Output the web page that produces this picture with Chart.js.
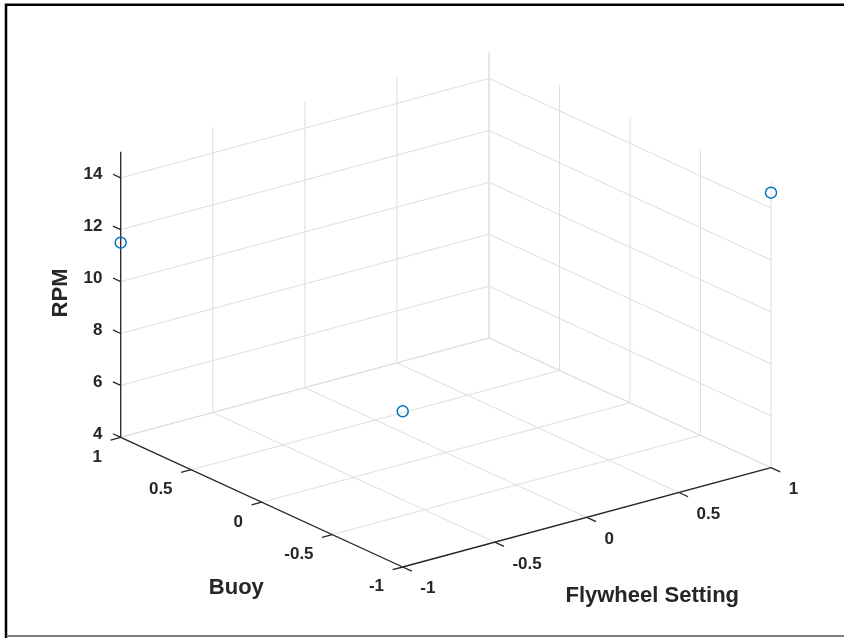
<!DOCTYPE html>
<html>
<head>
<meta charset="utf-8">
<script src="https://cdn.jsdelivr.net/npm/chart.js@4/dist/chart.umd.min.js"></script>
<style>
  html, body { margin: 0; padding: 0; background: #fff; }
  canvas { display: block; }
</style>
</head>
<body>
<canvas id="rpmChart" width="844" height="638"></canvas>
<script>
// Data
const flywheel = [-1, 1, -1]
const buoy = [1, -1, -1]
const rpm = [11.5, 14.6, 10.0]

const xTicks = [-1, -0.5, 0, 0.5, 1]
const yTicks = [-1, -0.5, 0, 0.5, 1]
const zTicks = [4, 6, 8, 10, 12, 14]
const xLimits = [-1, 1]
const yLimits = [-1, 1]
const zLimits = [4, 15]

const xTitle = "Flywheel Setting"
const yTitle = "Buoy"
const zTitle = "RPM"

// view (az -37.5, el 30) flattened to screen units
const view = {
  ox: 445.85,
  oy: 452.5,
  ex: [184.15, -49.65],
  ey: [-141, -64.85],
  ez: -25.95,
}

const GRID = "#dedede"
const AXIS = "#262626"
const BLUE = "#0072BD"
const FONT = '"Liberation Sans", Arial, Helvetica, sans-serif'

function proj(x, y, z) {
  return {
    x: view.ox + x * view.ex[0] + y * view.ey[0],
    y: view.oy + x * view.ex[1] + y * view.ey[1] + (z - zLimits[0]) * view.ez,
  }
}

function seg(a, b, color, width, order) {
  return {
    data: [proj(...a), proj(...b)],
    showLine: true,
    borderColor: color,
    borderWidth: width,
    pointRadius: 0,
    order: order,
  }
}

const datasets = []
const [x0, x1] = xLimits
const [y0, y1] = yLimits
const [z0, z1] = zLimits

// floor grid
xTicks.forEach((v) => datasets.push(seg([v, y0, z0], [v, y1, z0], GRID, 1, 3)))
yTicks.forEach((v) => datasets.push(seg([x0, v, z0], [x1, v, z0], GRID, 1, 3)))
// back wall (y = max)
xTicks.forEach((v) => datasets.push(seg([v, y1, z0], [v, y1, z1], GRID, 1, 3)))
zTicks.forEach((v) => datasets.push(seg([x0, y1, v], [x1, y1, v], GRID, 1, 3)))
// side wall (x = max)
yTicks.forEach((v) => datasets.push(seg([x1, v, z0], [x1, v, z1], GRID, 1, 3)))
zTicks.forEach((v) => datasets.push(seg([x1, y0, v], [x1, y1, v], GRID, 1, 3)))

// axis lines
datasets.push(seg([x0, y0, z0], [x1, y0, z0], AXIS, 1.3, 1))
datasets.push(seg([x0, y0, z0], [x0, y1, z0], AXIS, 1.3, 1))
datasets.push(seg([x0, y1, z0], [x0, y1, z1], AXIS, 1.3, 1))

// tick marks
const xTickLen = 0.065
const yTickLen = 0.055
const zTickLen = 0.055
xTicks.forEach((v) => datasets.push(seg([v, y0, z0], [v, y0 - xTickLen, z0], AXIS, 1.3, 1)))
yTicks.forEach((v) => datasets.push(seg([x0, v, z0], [x0 - yTickLen, v, z0], AXIS, 1.3, 1)))
zTicks.forEach((v) => datasets.push(seg([x0, y1, v], [x0, y1 + zTickLen, v], AXIS, 1.3, 1)))

// the measurements
datasets.push({
  data: flywheel.map((f, i) => proj(f, buoy[i], rpm[i])),
  pointStyle: "circle",
  pointRadius: 5.5,
  pointBorderWidth: 1.5,
  pointBorderColor: BLUE,
  pointBackgroundColor: "rgba(255,255,255,0)",
  showLine: false,
  order: 0,
})

function fmt(v) {
  return String(v)
}

const labelsPlugin = {
  id: "labels3d",
  beforeDraw(chart) {
    const ctx = chart.ctx
    ctx.save()
    ctx.fillStyle = "#fff"
    ctx.fillRect(0, 0, chart.width, chart.height)
    ctx.restore()
  },
  afterDraw(chart) {
    const ctx = chart.ctx
    const sx = chart.scales.x
    const sy = chart.scales.y
    const px = (p) => ({ x: sx.getPixelForValue(p.x), y: sy.getPixelForValue(p.y) })
    ctx.save()
    ctx.fillStyle = AXIS
    ctx.textBaseline = "middle"
    ctx.font = "bold 17px " + FONT

    ctx.textAlign = "left"
    xTicks.forEach((v) => {
      const p = px(proj(v, y0 - xTickLen, z0))
      ctx.fillText(fmt(v), p.x + 8.5, p.y + 17.5)
    })
    ctx.textAlign = "right"
    yTicks.forEach((v) => {
      const p = px(proj(x0 - yTickLen, v, z0))
      ctx.fillText(fmt(v), p.x - 8.5, p.y + 17)
    })
    zTicks.forEach((v) => {
      const p = px(proj(x0, y1 + zTickLen, v))
      ctx.fillText(fmt(v), p.x - 10.5, p.y + 0.5)
    })

    // axis titles
    ctx.font = "bold 22px " + FONT
    ctx.textAlign = "center"
    const xm = px(proj((x0 + x1) / 2, y0, z0))
    ctx.fillText(xTitle, xm.x + 65.4, xm.y + 78.4)
    const ym = px(proj(x0, (y0 + y1) / 2, z0))
    ctx.fillText(yTitle, ym.x - 25.4, ym.y + 86)
    const zm = px(proj(x0, y1, (z0 + z1) / 2))
    ctx.translate(zm.x - 60, zm.y - 1.6)
    ctx.rotate(-Math.PI / 2)
    ctx.fillText(zTitle, 0, 0)
    ctx.restore()

    // figure frame
    ctx.save()
    ctx.strokeStyle = "#000"
    ctx.lineWidth = 2.5
    ctx.beginPath()
    ctx.moveTo(6, 640)
    ctx.lineTo(6, 4.7)
    ctx.lineTo(850, 4.7)
    ctx.stroke()
    ctx.strokeStyle = "#555"
    ctx.lineWidth = 1.5
    ctx.beginPath()
    ctx.moveTo(6, 636)
    ctx.lineTo(850, 636)
    ctx.stroke()
    ctx.restore()
  },
}

new Chart(document.getElementById("rpmChart"), {
  type: "scatter",
  data: { datasets: datasets },
  options: {
    responsive: false,
    animation: false,
    layout: { padding: 0, autoPadding: false },
    plugins: {
      legend: { display: false },
      tooltip: { enabled: false },
    },
    scales: {
      x: { type: "linear", min: 0, max: 844, display: false },
      y: { type: "linear", min: 0, max: 638, reverse: true, display: false },
    },
  },
  plugins: [labelsPlugin],
})
</script>
</body>
</html>
